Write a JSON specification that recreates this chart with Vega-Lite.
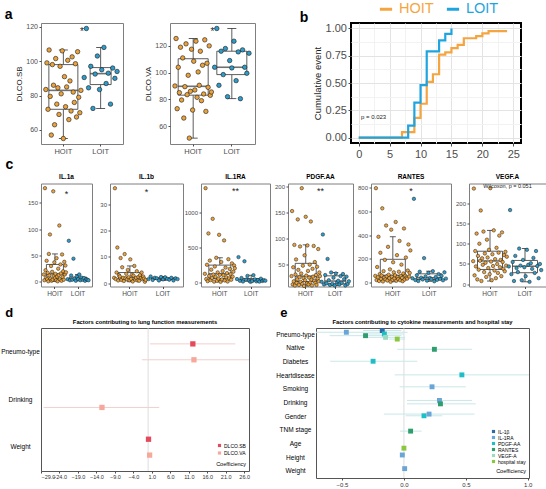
{
"$schema": "https://vega.github.io/schema/vega-lite/v6.json",
"background": "white",
"padding": 0,
"config": {
  "font": "Liberation Sans",
  "view": {"stroke": "#7f7f7f", "strokeWidth": 1},
  "axis": {"grid": false, "domain": false, "labelOverlap": false, "labelColor": "#4d4d4d", "tickColor": "#4d4d4d", "tickSize": 2, "labelPadding": 1.5, "titleColor": "#1a1a1a", "titleFontWeight": "normal", "labelFont": "Liberation Sans", "titleFont": "Liberation Sans"},
  "title": {"font": "Liberation Sans", "fontWeight": "bold", "color": "black"},
  "legend": {"labelFont": "Liberation Sans", "titleFont": "Liberation Sans"}
},
"datasets": {
  "sb": [{"g":"HOIT","v":83.5},{"g":"HOIT","v":99},{"g":"HOIT","v":72},{"g":"HOIT","v":106.5},{"g":"HOIT","v":79.5},{"g":"HOIT","v":57},{"g":"HOIT","v":98},{"g":"HOIT","v":86},{"g":"HOIT","v":63},{"g":"HOIT","v":101.5},{"g":"HOIT","v":75},{"g":"HOIT","v":84.5},{"g":"HOIT","v":69},{"g":"HOIT","v":97},{"g":"HOIT","v":81},{"g":"HOIT","v":106},{"g":"HOIT","v":55},{"g":"HOIT","v":91},{"g":"HOIT","v":73.5},{"g":"HOIT","v":85},{"g":"HOIT","v":100.5},{"g":"HOIT","v":66},{"g":"HOIT","v":88.5},{"g":"HOIT","v":71},{"g":"HOIT","v":102.5},{"g":"HOIT","v":82},{"g":"HOIT","v":76},{"g":"HOIT","v":98.5},{"g":"HOIT","v":67.5},{"g":"HOIT","v":105.5},{"g":"HOIT","v":79},{"g":"HOIT","v":70},{"g":"HOIT","v":83},
         {"g":"LOIT","v":90.5},{"g":"LOIT","v":119},{"g":"LOIT","v":84.5},{"g":"LOIT","v":97},{"g":"LOIT","v":72.5},{"g":"LOIT","v":92.5},{"g":"LOIT","v":103},{"g":"LOIT","v":83.5},{"g":"LOIT","v":95},{"g":"LOIT","v":108},{"g":"LOIT","v":87},{"g":"LOIT","v":93},{"g":"LOIT","v":75},{"g":"LOIT","v":96},{"g":"LOIT","v":90},{"g":"LOIT","v":94}],
  "va": [{"g":"HOIT","v":90},{"g":"HOIT","v":125.5},{"g":"HOIT","v":73},{"g":"HOIT","v":104},{"g":"HOIT","v":85},{"g":"HOIT","v":119},{"g":"HOIT","v":79.5},{"g":"HOIT","v":111},{"g":"HOIT","v":66},{"g":"HOIT","v":89.5},{"g":"HOIT","v":121.5},{"g":"HOIT","v":83.5},{"g":"HOIT","v":98},{"g":"HOIT","v":51},{"g":"HOIT","v":86},{"g":"HOIT","v":117.5},{"g":"HOIT","v":72},{"g":"HOIT","v":108.5},{"g":"HOIT","v":87},{"g":"HOIT","v":123.5},{"g":"HOIT","v":81.5},{"g":"HOIT","v":100.5},{"g":"HOIT","v":90.5},{"g":"HOIT","v":116},{"g":"HOIT","v":79},{"g":"HOIT","v":105.5},{"g":"HOIT","v":84},{"g":"HOIT","v":124.5},{"g":"HOIT","v":71},{"g":"HOIT","v":107},{"g":"HOIT","v":89},{"g":"HOIT","v":120},{"g":"HOIT","v":83},{"g":"HOIT","v":85.5},
         {"g":"LOIT","v":104},{"g":"LOIT","v":133},{"g":"LOIT","v":90.5},{"g":"LOIT","v":116},{"g":"LOIT","v":98.5},{"g":"LOIT","v":118},{"g":"LOIT","v":82},{"g":"LOIT","v":109},{"g":"LOIT","v":103.5},{"g":"LOIT","v":123.5},{"g":"LOIT","v":94},{"g":"LOIT","v":115.5},{"g":"LOIT","v":80.5},{"g":"LOIT","v":117},{"g":"LOIT","v":104},{"g":"LOIT","v":99.5},{"g":"LOIT","v":114.5}],
  "km": [{"g":"HOIT","t":0,"p":0},{"g":"HOIT","t":7,"p":0.05},{"g":"HOIT","t":9,"p":0.18},{"g":"HOIT","t":10,"p":0.31},{"g":"HOIT","t":11,"p":0.51},{"g":"HOIT","t":12,"p":0.58},{"g":"HOIT","t":13,"p":0.76},{"g":"HOIT","t":14,"p":0.78},{"g":"HOIT","t":15,"p":0.82},{"g":"HOIT","t":16,"p":0.85},{"g":"HOIT","t":17,"p":0.91},{"g":"HOIT","t":19,"p":0.93},{"g":"HOIT","t":20,"p":0.955},{"g":"HOIT","t":21,"p":0.975},{"g":"HOIT","t":24,"p":0.975},
         {"g":"LOIT","t":0,"p":0},{"g":"LOIT","t":8,"p":0.11},{"g":"LOIT","t":9,"p":0.32},{"g":"LOIT","t":10,"p":0.48},{"g":"LOIT","t":11,"p":0.79},{"g":"LOIT","t":13,"p":0.89},{"g":"LOIT","t":14,"p":0.95},{"g":"LOIT","t":15,"p":1}],
  "il1a": [{"g":"HOIT","v":14},{"g":"HOIT","v":3},{"g":"HOIT","v":178},{"g":"HOIT","v":22},{"g":"HOIT","v":8},{"g":"HOIT","v":40},{"g":"HOIT","v":5},{"g":"HOIT","v":17},{"g":"HOIT","v":1},{"g":"HOIT","v":53},{"g":"HOIT","v":12},{"g":"HOIT","v":90},{"g":"HOIT","v":6},{"g":"HOIT","v":30},{"g":"HOIT","v":2},{"g":"HOIT","v":19},{"g":"HOIT","v":4},{"g":"HOIT","v":172},{"g":"HOIT","v":11},{"g":"HOIT","v":37},{"g":"HOIT","v":7},{"g":"HOIT","v":15},{"g":"HOIT","v":3},{"g":"HOIT","v":45},{"g":"HOIT","v":10},{"g":"HOIT","v":1},{"g":"HOIT","v":25},{"g":"HOIT","v":13},{"g":"HOIT","v":107},{"g":"HOIT","v":5},{"g":"HOIT","v":33},{"g":"HOIT","v":16},{"g":"HOIT","v":2},{"g":"HOIT","v":52},{"g":"HOIT","v":9},{"g":"HOIT","v":20},{"g":"HOIT","v":4},{"g":"HOIT","v":38},{"g":"HOIT","v":14},{"g":"HOIT","v":31},{"g":"HOIT","v":18},
           {"g":"LOIT","v":5},{"g":"LOIT","v":78},{"g":"LOIT","v":3},{"g":"LOIT","v":12},{"g":"LOIT","v":4},{"g":"LOIT","v":44},{"g":"LOIT","v":6},{"g":"LOIT","v":2},{"g":"LOIT","v":10},{"g":"LOIT","v":5},{"g":"LOIT","v":14},{"g":"LOIT","v":3},{"g":"LOIT","v":8},{"g":"LOIT","v":4},{"g":"LOIT","v":7},{"g":"LOIT","v":2},{"g":"LOIT","v":5},{"g":"LOIT","v":4},{"g":"LOIT","v":3}],
  "il1b": [{"g":"HOIT","v":2},{"g":"HOIT","v":36},{"g":"HOIT","v":1.5},{"g":"HOIT","v":4},{"g":"HOIT","v":13.5},{"g":"HOIT","v":1},{"g":"HOIT","v":3},{"g":"HOIT","v":2.5},{"g":"HOIT","v":9.5},{"g":"HOIT","v":1.2},{"g":"HOIT","v":6},{"g":"HOIT","v":2},{"g":"HOIT","v":0.8},{"g":"HOIT","v":11},{"g":"HOIT","v":1.8},{"g":"HOIT","v":3.5},{"g":"HOIT","v":1.4},{"g":"HOIT","v":5},{"g":"HOIT","v":2.2},{"g":"HOIT","v":1.1},{"g":"HOIT","v":9},{"g":"HOIT","v":1.6},{"g":"HOIT","v":3.2},{"g":"HOIT","v":0.6},{"g":"HOIT","v":2.8},{"g":"HOIT","v":6.5},{"g":"HOIT","v":1.3},{"g":"HOIT","v":2},{"g":"HOIT","v":4.5},{"g":"HOIT","v":1},{"g":"HOIT","v":2.3},{"g":"HOIT","v":0.9},{"g":"HOIT","v":3},{"g":"HOIT","v":1.9},{"g":"HOIT","v":4},{"g":"HOIT","v":1.5},{"g":"HOIT","v":2.5},{"g":"HOIT","v":1.7},{"g":"HOIT","v":0.5},{"g":"HOIT","v":1.2},
           {"g":"LOIT","v":1.5},{"g":"LOIT","v":2.5},{"g":"LOIT","v":1.2},{"g":"LOIT","v":2},{"g":"LOIT","v":1.8},{"g":"LOIT","v":1},{"g":"LOIT","v":2.3},{"g":"LOIT","v":1.4},{"g":"LOIT","v":2.2},{"g":"LOIT","v":1.6},{"g":"LOIT","v":1.3},{"g":"LOIT","v":2},{"g":"LOIT","v":1},{"g":"LOIT","v":1.8},{"g":"LOIT","v":1.5}],
  "il1ra": [{"g":"HOIT","v":120},{"g":"HOIT","v":1350},{"g":"HOIT","v":45},{"g":"HOIT","v":250},{"g":"HOIT","v":15},{"g":"HOIT","v":700},{"g":"HOIT","v":90},{"g":"HOIT","v":310},{"g":"HOIT","v":30},{"g":"HOIT","v":180},{"g":"HOIT","v":60},{"g":"HOIT","v":910},{"g":"HOIT","v":110},{"g":"HOIT","v":8},{"g":"HOIT","v":225},{"g":"HOIT","v":75},{"g":"HOIT","v":350},{"g":"HOIT","v":20},{"g":"HOIT","v":140},{"g":"HOIT","v":50},{"g":"HOIT","v":680},{"g":"HOIT","v":105},{"g":"HOIT","v":5},{"g":"HOIT","v":290},{"g":"HOIT","v":40},{"g":"HOIT","v":160},{"g":"HOIT","v":100},{"g":"HOIT","v":600},{"g":"HOIT","v":25},{"g":"HOIT","v":210},{"g":"HOIT","v":70},{"g":"HOIT","v":130},{"g":"HOIT","v":10},{"g":"HOIT","v":330},{"g":"HOIT","v":55},{"g":"HOIT","v":190},{"g":"HOIT","v":115},{"g":"HOIT","v":35},{"g":"HOIT","v":270},{"g":"HOIT","v":80},{"g":"HOIT","v":150},{"g":"HOIT","v":240},{"g":"HOIT","v":200},
            {"g":"LOIT","v":45},{"g":"LOIT","v":360},{"g":"LOIT","v":20},{"g":"LOIT","v":60},{"g":"LOIT","v":10},{"g":"LOIT","v":300},{"g":"LOIT","v":35},{"g":"LOIT","v":90},{"g":"LOIT","v":25},{"g":"LOIT","v":5},{"g":"LOIT","v":15},{"g":"LOIT","v":100},{"g":"LOIT","v":40},{"g":"LOIT","v":12},{"g":"LOIT","v":30},{"g":"LOIT","v":8},{"g":"LOIT","v":50},{"g":"LOIT","v":18},{"g":"LOIT","v":28},{"g":"LOIT","v":22}],
  "pdgf": [{"g":"HOIT","v":28},{"g":"HOIT","v":153},{"g":"HOIT","v":12},{"g":"HOIT","v":45},{"g":"HOIT","v":18},{"g":"HOIT","v":88},{"g":"HOIT","v":10},{"g":"HOIT","v":31},{"g":"HOIT","v":60},{"g":"HOIT","v":15},{"g":"HOIT","v":22},{"g":"HOIT","v":137},{"g":"HOIT","v":40},{"g":"HOIT","v":11},{"g":"HOIT","v":26},{"g":"HOIT","v":85},{"g":"HOIT","v":17},{"g":"HOIT","v":33},{"g":"HOIT","v":197},{"g":"HOIT","v":13},{"g":"HOIT","v":48},{"g":"HOIT","v":24},{"g":"HOIT","v":9},{"g":"HOIT","v":68},{"g":"HOIT","v":20},{"g":"HOIT","v":142},{"g":"HOIT","v":29},{"g":"HOIT","v":14},{"g":"HOIT","v":87},{"g":"HOIT","v":38},{"g":"HOIT","v":12},{"g":"HOIT","v":25},{"g":"HOIT","v":50},{"g":"HOIT","v":16},{"g":"HOIT","v":133},{"g":"HOIT","v":21},{"g":"HOIT","v":10},{"g":"HOIT","v":42},{"g":"HOIT","v":27},{"g":"HOIT","v":86},{"g":"HOIT","v":19},{"g":"HOIT","v":55},{"g":"HOIT","v":15},{"g":"HOIT","v":30},{"g":"HOIT","v":11},{"g":"HOIT","v":46},{"g":"HOIT","v":23},{"g":"HOIT","v":80},{"g":"HOIT","v":18},{"g":"HOIT","v":35},{"g":"HOIT","v":28},
           {"g":"LOIT","v":17},{"g":"LOIT","v":108},{"g":"LOIT","v":12},{"g":"LOIT","v":30},{"g":"LOIT","v":14},{"g":"LOIT","v":61},{"g":"LOIT","v":20},{"g":"LOIT","v":11},{"g":"LOIT","v":35},{"g":"LOIT","v":13},{"g":"LOIT","v":25},{"g":"LOIT","v":10},{"g":"LOIT","v":33},{"g":"LOIT","v":16},{"g":"LOIT","v":19},{"g":"LOIT","v":12},{"g":"LOIT","v":28},{"g":"LOIT","v":15},{"g":"LOIT","v":32},{"g":"LOIT","v":22},{"g":"LOIT","v":10},{"g":"LOIT","v":27},{"g":"LOIT","v":13},{"g":"LOIT","v":18}],
  "rantes": [{"g":"HOIT","v":55},{"g":"HOIT","v":795},{"g":"HOIT","v":20},{"g":"HOIT","v":130},{"g":"HOIT","v":44},{"g":"HOIT","v":385},{"g":"HOIT","v":12},{"g":"HOIT","v":70},{"g":"HOIT","v":250},{"g":"HOIT","v":30},{"g":"HOIT","v":58},{"g":"HOIT","v":625},{"g":"HOIT","v":8},{"g":"HOIT","v":95},{"g":"HOIT","v":40},{"g":"HOIT","v":190},{"g":"HOIT","v":26},{"g":"HOIT","v":480},{"g":"HOIT","v":52},{"g":"HOIT","v":16},{"g":"HOIT","v":300},{"g":"HOIT","v":65},{"g":"HOIT","v":36},{"g":"HOIT","v":110},{"g":"HOIT","v":5},{"g":"HOIT","v":445},{"g":"HOIT","v":48},{"g":"HOIT","v":22},{"g":"HOIT","v":170},{"g":"HOIT","v":85},{"g":"HOIT","v":34},{"g":"HOIT","v":60},{"g":"HOIT","v":510},{"g":"HOIT","v":14},{"g":"HOIT","v":230},{"g":"HOIT","v":46},{"g":"HOIT","v":28},{"g":"HOIT","v":90},{"g":"HOIT","v":350},{"g":"HOIT","v":18},{"g":"HOIT","v":54},{"g":"HOIT","v":150},{"g":"HOIT","v":38},{"g":"HOIT","v":10},{"g":"HOIT","v":75},{"g":"HOIT","v":455},{"g":"HOIT","v":24},{"g":"HOIT","v":56},{"g":"HOIT","v":210},{"g":"HOIT","v":42},{"g":"HOIT","v":32},{"g":"HOIT","v":100},{"g":"HOIT","v":320},{"g":"HOIT","v":50},{"g":"HOIT","v":80},{"g":"HOIT","v":270},
             {"g":"LOIT","v":35},{"g":"LOIT","v":705},{"g":"LOIT","v":20},{"g":"LOIT","v":60},{"g":"LOIT","v":12},{"g":"LOIT","v":90},{"g":"LOIT","v":40},{"g":"LOIT","v":25},{"g":"LOIT","v":205},{"g":"LOIT","v":50},{"g":"LOIT","v":15},{"g":"LOIT","v":80},{"g":"LOIT","v":38},{"g":"LOIT","v":28},{"g":"LOIT","v":95},{"g":"LOIT","v":10},{"g":"LOIT","v":45},{"g":"LOIT","v":22},{"g":"LOIT","v":70},{"g":"LOIT","v":30},{"g":"LOIT","v":55},{"g":"LOIT","v":18},{"g":"LOIT","v":85},{"g":"LOIT","v":32}],
  "vegf": [{"g":"HOIT","v":57},{"g":"HOIT","v":236},{"g":"HOIT","v":22},{"g":"HOIT","v":82},{"g":"HOIT","v":44},{"g":"HOIT","v":125},{"g":"HOIT","v":12},{"g":"HOIT","v":70},{"g":"HOIT","v":36},{"g":"HOIT","v":100},{"g":"HOIT","v":58},{"g":"HOIT","v":182},{"g":"HOIT","v":8},{"g":"HOIT","v":64},{"g":"HOIT","v":48},{"g":"HOIT","v":130},{"g":"HOIT","v":30},{"g":"HOIT","v":76},{"g":"HOIT","v":53},{"g":"HOIT","v":18},{"g":"HOIT","v":110},{"g":"HOIT","v":66},{"g":"HOIT","v":40},{"g":"HOIT","v":85},{"g":"HOIT","v":25},{"g":"HOIT","v":237},{"g":"HOIT","v":56},{"g":"HOIT","v":10},{"g":"HOIT","v":74},{"g":"HOIT","v":45},{"g":"HOIT","v":133},{"g":"HOIT","v":34},{"g":"HOIT","v":62},{"g":"HOIT","v":15},{"g":"HOIT","v":90},{"g":"HOIT","v":50},{"g":"HOIT","v":28},{"g":"HOIT","v":78},{"g":"HOIT","v":120},{"g":"HOIT","v":42},{"g":"HOIT","v":60},{"g":"HOIT","v":20},{"g":"HOIT","v":128},{"g":"HOIT","v":55},{"g":"HOIT","v":38},{"g":"HOIT","v":72},{"g":"HOIT","v":32},{"g":"HOIT","v":80},{"g":"HOIT","v":46},{"g":"HOIT","v":68},
           {"g":"LOIT","v":44},{"g":"LOIT","v":183},{"g":"LOIT","v":25},{"g":"LOIT","v":55},{"g":"LOIT","v":8},{"g":"LOIT","v":70},{"g":"LOIT","v":40},{"g":"LOIT","v":30},{"g":"LOIT","v":88},{"g":"LOIT","v":46},{"g":"LOIT","v":10},{"g":"LOIT","v":60},{"g":"LOIT","v":42},{"g":"LOIT","v":20},{"g":"LOIT","v":85},{"g":"LOIT","v":48},{"g":"LOIT","v":6},{"g":"LOIT","v":52},{"g":"LOIT","v":38},{"g":"LOIT","v":65},{"g":"LOIT","v":28},{"g":"LOIT","v":82},{"g":"LOIT","v":45},{"g":"LOIT","v":15},{"g":"LOIT","v":50},{"g":"LOIT","v":35}],
  "dd": [{"f":"Pneumo-type","m":"DLCO.SB","est":12.1,"lo":0.5,"hi":23.6},{"f":"Pneumo-type","m":"DLCO.VA","est":12.4,"lo":-1.7,"hi":30},{"f":"Drinking","m":"DLCO.VA","est":-12.5,"lo":-28.3,"hi":3.0},{"f":"Weight","m":"DLCO.SB","est":0.1,"lo":-0.3,"hi":0.5},{"f":"Weight","m":"DLCO.VA","est":0.4,"lo":0.0,"hi":0.8}],
  "ee": [{"f":"Pneumo-type","m":"IL-1β","est":-0.175,"lo":-0.33,"hi":-0.02},{"f":"Pneumo-type","m":"IL-1RA","est":-0.465,"lo":-0.75,"hi":0.03},{"f":"Pneumo-type","m":"PDGF-AA","est":-0.158,"lo":-0.32,"hi":0.0},{"f":"Pneumo-type","m":"RANTES","est":-0.31,"lo":-0.6,"hi":-0.02},{"f":"Pneumo-type","m":"VEGF-A","est":-0.148,"lo":-0.3,"hi":0.01},{"f":"Pneumo-type","m":"hospital stay","est":-0.054,"lo":-0.12,"hi":0.01},
         {"f":"Native","m":"RANTES","est":0.246,"lo":-0.054,"hi":0.549},{"f":"Diabetes","m":"PDGF-AA","est":-0.249,"lo":-0.595,"hi":0.108},{"f":"Heartdisease","m":"PDGF-AA","est":0.468,"lo":-0.075,"hi":1.05},{"f":"Smoking","m":"IL-1RA","est":0.227,"lo":-0.035,"hi":0.5},
         {"f":"Drinking","m":"IL-1RA","est":0.287,"lo":0.025,"hi":0.55},{"f":"Drinking","m":"RANTES","est":0.295,"lo":0.025,"hi":0.58},{"f":"Gender","m":"IL-1RA","est":0.203,"lo":-0.162,"hi":0.57},{"f":"Gender","m":"PDGF-AA","est":0.162,"lo":0.014,"hi":0.31},
         {"f":"TNM stage","m":"RANTES","est":0.054,"lo":-0.032,"hi":0.143},{"f":"Age","m":"hospital stay","est":0.0,"lo":-0.01,"hi":0.01},{"f":"Height","m":"IL-1RA","est":-0.013,"lo":-0.03,"hi":0.005},{"f":"Weight","m":"IL-1RA","est":0.006,"lo":-0.01,"hi":0.02}]
},
"spacing": 10,
"resolve": {"scale": {"color": "independent", "yOffset": "independent", "xOffset": "independent"}, "legend": {"color": "independent"}},
"vconcat": [
 {"spacing": -2.5,
  "resolve": {"scale": {"color": "independent", "yOffset": "independent", "xOffset": "independent"}, "legend": {"color": "independent"}},
  "vconcat": [
  {"spacing": 42,
   "resolve": {"scale": {"color": "independent", "xOffset": "independent"}, "legend": {"color": "independent"}},
   "hconcat": [
   {"spacing": 20,
    "resolve": {"scale": {"xOffset": "independent"}},
    "hconcat": [
     {"width": 82, "height": 121, "data": {"name": "sb"},
      "title": {"text": "a", "anchor": "start", "frame": "bounds", "dx": -11, "offset": 1, "fontSize": 14},
      "resolve": {"scale": {"xOffset": "independent"}},
      "encoding": {
       "x": {"field": "g", "type": "nominal", "title": null, "scale": {"domain": ["HOIT", "LOIT"], "paddingInner": 0, "paddingOuter": 0.1}, "axis": {"labelAngle": 0, "labelFontSize": 7.5, "labelOverlap": false}},
       "y": {"field": "v", "type": "quantitative", "title": "DLCO.SB", "scale": {"domain": [51.8, 122.2], "nice": false, "zero": false}, "axis": {"values": [60, 80, 100, 120], "labelOverlap": false, "labelFontSize": 7, "titleFontSize": 8, "titlePadding": 2}}},
      "layer": [
       {"transform": [{"filter": "datum.g == 'HOIT'"}],
        "mark": {"type": "boxplot", "extent": 1.5, "size": 29, "outliers": false, "box": {"fill": "white", "stroke": "#333333", "strokeWidth": 0.8}, "median": {"color": "#333333", "thickness": 1.6}, "rule": {"color": "#333333", "strokeWidth": 0.8}, "ticks": {"color": "#333333", "size": 9, "thickness": 0.8}}},
       {"transform": [{"filter": "datum.g == 'LOIT'"}],
        "mark": {"type": "boxplot", "extent": 1.5, "size": 21, "outliers": false, "box": {"fill": "white", "stroke": "#333333", "strokeWidth": 0.8}, "median": {"color": "#333333", "thickness": 1.6}, "rule": {"color": "#333333", "strokeWidth": 0.8}, "ticks": {"color": "#333333", "size": 9, "thickness": 0.8}}},
       {"transform": [{"filter": "datum.g == 'HOIT'"}, {"window": [{"op": "row_number", "as": "i"}]}],
        "mark": {"type": "circle", "size": 20, "fill": "#EBA23A", "stroke": "#1a1a1a", "strokeWidth": 0.6, "opacity": 1},
        "encoding": {"xOffset": {"field": "i", "type": "nominal", "scale": {"paddingOuter": 9}}}},
       {"transform": [{"filter": "datum.g == 'LOIT'"}, {"window": [{"op": "row_number", "as": "i"}]}],
        "mark": {"type": "circle", "size": 20, "fill": "#2E9CCA", "stroke": "#1a1a1a", "strokeWidth": 0.6, "opacity": 1},
        "encoding": {"xOffset": {"field": "i", "type": "nominal", "scale": {"paddingOuter": 6.8}}}},
       {"data": {"values": [{"t": "*", "v": 117}]}, "mark": {"type": "text", "fontSize": 10, "color": "#1a1a1a"},
        "encoding": {"x": {"datum": "LOIT", "bandPosition": 0, "title": null}, "text": {"field": "t"}}}
      ]},
     {"width": 85, "height": 121, "data": {"name": "va"},
      "resolve": {"scale": {"xOffset": "independent"}},
      "encoding": {
       "x": {"field": "g", "type": "nominal", "title": null, "scale": {"domain": ["HOIT", "LOIT"], "paddingInner": 0, "paddingOuter": 0.1}, "axis": {"labelAngle": 0, "labelFontSize": 7.5, "labelOverlap": false}},
       "y": {"field": "v", "type": "quantitative", "title": "DLCO.VA", "scale": {"domain": [46.6, 137.1], "nice": false, "zero": false}, "axis": {"values": [60, 80, 100, 120], "labelOverlap": false, "labelFontSize": 7, "titleFontSize": 8, "titlePadding": 2}}},
      "layer": [
       {"transform": [{"filter": "datum.g == 'HOIT'"}],
        "mark": {"type": "boxplot", "extent": 1.5, "size": 30, "outliers": false, "box": {"fill": "white", "stroke": "#333333", "strokeWidth": 0.8}, "median": {"color": "#333333", "thickness": 1.6}, "rule": {"color": "#333333", "strokeWidth": 0.8}, "ticks": {"color": "#333333", "size": 9, "thickness": 0.8}}},
       {"transform": [{"filter": "datum.g == 'LOIT'"}],
        "mark": {"type": "boxplot", "extent": 1.5, "size": 30, "outliers": false, "box": {"fill": "white", "stroke": "#333333", "strokeWidth": 0.8}, "median": {"color": "#333333", "thickness": 1.6}, "rule": {"color": "#333333", "strokeWidth": 0.8}, "ticks": {"color": "#333333", "size": 9, "thickness": 0.8}}},
       {"transform": [{"filter": "datum.g == 'HOIT'"}, {"window": [{"op": "row_number", "as": "i"}]}],
        "mark": {"type": "circle", "size": 20, "fill": "#EBA23A", "stroke": "#1a1a1a", "strokeWidth": 0.6, "opacity": 1},
        "encoding": {"xOffset": {"field": "i", "type": "nominal", "scale": {"paddingOuter": 12.8}}}},
       {"transform": [{"filter": "datum.g == 'LOIT'"}, {"window": [{"op": "row_number", "as": "i"}]}],
        "mark": {"type": "circle", "size": 20, "fill": "#2E9CCA", "stroke": "#1a1a1a", "strokeWidth": 0.6, "opacity": 1},
        "encoding": {"xOffset": {"field": "i", "type": "nominal", "scale": {"paddingOuter": 5.2}}}},
       {"data": {"values": [{"t": "*", "v": 130.4}]}, "mark": {"type": "text", "fontSize": 10, "color": "#1a1a1a"},
        "encoding": {"x": {"datum": "LOIT", "bandPosition": 0, "title": null}, "text": {"field": "t"}}}
      ]}
    ]},
   {"width": 170, "height": 120,
    "view": {"stroke": "black", "strokeWidth": 2},
    "resolve": {"axis": {"x": "independent", "y": "independent"}},
    "layer": [
     {"data": {"name": "km"}, "mark": {"type": "line", "interpolate": "step-after", "strokeWidth": 2.2},
      "encoding": {
       "x": {"field": "t", "type": "quantitative", "title": null, "scale": {"domain": [-1.25, 26.25], "nice": false, "zero": false}, "axis": {"values": [0, 5, 10, 15, 20, 25], "grid": true, "gridColor": "#e3e3e3", "labelFontSize": 11, "tickSize": 3, "labelPadding": 2}},
       "y": {"field": "p", "type": "quantitative", "title": "Cumulative event", "scale": {"domain": [-0.05, 1.05], "nice": false, "zero": false}, "axis": {"values": [0, 0.25, 0.5, 0.75, 1], "format": ".2f", "grid": true, "gridColor": "#e3e3e3", "titleFontSize": 9.5, "labelFontSize": 11, "tickSize": 3, "titlePadding": 3}},
       "color": {"field": "g", "type": "nominal", "scale": {"domain": ["HOIT", "LOIT"], "range": ["#F5A540", "#1EA5E0"]},
                 "legend": {"orient": "none", "legendX": 27, "legendY": -22, "direction": "horizontal", "title": null, "symbolType": "stroke", "symbolStrokeWidth": 3, "symbolSize": 150, "labelFontSize": 14.5, "labelColor": {"expr": "datum.label == 'HOIT' ? '#F5A540' : '#1EA5E0'"}, "columnPadding": 6, "labelOffset": 5, "padding": 0}}}},
     {"data": {"values": [{"x": 0.37, "y": 0.19, "t": "p = 0.023"}]}, "mark": {"type": "text", "fontSize": 6, "align": "left", "color": "#1a1a1a"},
      "encoding": {
       "x": {"field": "x", "type": "quantitative", "title": null, "axis": {"values": [2.5, 7.5, 12.5, 17.5, 22.5], "grid": true, "gridColor": "#f2f2f2", "labels": false, "ticks": false, "domain": false}},
       "y": {"field": "y", "type": "quantitative", "title": null, "axis": {"values": [0.125, 0.375, 0.625, 0.875], "grid": true, "gridColor": "#f2f2f2", "labels": false, "ticks": false, "domain": false}},
       "text": {"field": "t"}}},
     {"data": {"values": [{"x": -8.85, "y": 1.096, "t": "b"}]}, "mark": {"type": "text", "fontSize": 14, "fontWeight": "bold", "color": "black"},
      "encoding": {"x": {"field": "x", "type": "quantitative", "axis": null}, "y": {"field": "y", "type": "quantitative", "axis": null}, "text": {"field": "t"}}}
    ]}
  ]},
  {"title": {"text": "c", "anchor": "start", "frame": "bounds", "dx": -21.5, "offset": 2, "fontSize": 14},
   "spacing": 18, "bounds": "flush",
   "resolve": {"scale": {"xOffset": "independent"}},
   "hconcat": [
    {"width": 51, "height": 103, "title": {"text": "IL.1a", "fontSize": 6.5, "offset": 3}, "data": {"name": "il1a"},
     "resolve": {"scale": {"xOffset": "independent"}},
     "encoding": {
      "x": {"field": "g", "type": "nominal", "title": null, "scale": {"domain": ["HOIT", "LOIT"], "paddingInner": 0, "paddingOuter": 0.1}, "axis": {"labelAngle": 0, "labelFontSize": 6.5, "labelOverlap": false}},
      "y": {"field": "v", "type": "quantitative", "title": null, "scale": {"domain": [-8.9, 186.9], "nice": false, "zero": false}, "axis": {"values": [0, 50, 100, 150], "labelOverlap": false, "labelFontSize": 6}}},
     "layer": [
      {"transform": [{"filter": "datum.g == 'HOIT'"}], "mark": {"type": "boxplot", "extent": 1.5, "size": 17, "outliers": false, "box": {"fill": "white", "stroke": "#333333", "strokeWidth": 0.8}, "median": {"color": "#333333", "thickness": 1.5}, "rule": {"color": "#333333", "strokeWidth": 0.8}, "ticks": {"color": "#333333", "size": 6, "thickness": 0.8}}},
      {"transform": [{"filter": "datum.g == 'LOIT'"}], "mark": {"type": "boxplot", "extent": 1.5, "size": 17, "outliers": false, "box": {"fill": "white", "stroke": "#333333", "strokeWidth": 0.8}, "median": {"color": "#333333", "thickness": 1.5}, "rule": {"color": "#333333", "strokeWidth": 0.8}, "ticks": {"color": "#333333", "size": 6, "thickness": 0.8}}},
      {"transform": [{"filter": "datum.g == 'HOIT'"}, {"window": [{"op": "row_number", "as": "i"}]}], "mark": {"type": "circle", "size": 12, "fill": "#EBA23A", "stroke": "#1a1a1a", "strokeWidth": 0.5, "opacity": 1},
       "encoding": {"xOffset": {"field": "i", "type": "nominal", "scale": {"paddingOuter": 6.8}}}},
      {"transform": [{"filter": "datum.g == 'LOIT'"}, {"window": [{"op": "row_number", "as": "i"}]}], "mark": {"type": "circle", "size": 12, "fill": "#2E9CCA", "stroke": "#1a1a1a", "strokeWidth": 0.5, "opacity": 1},
       "encoding": {"xOffset": {"field": "i", "type": "nominal", "scale": {"paddingOuter": 3.2}}}},
      {"data": {"values": [{"t": "*", "v": 166}]}, "mark": {"type": "text", "fontSize": 9, "color": "#1a1a1a"},
       "encoding": {"x": {"datum": "LOIT", "bandPosition": 0, "title": null}, "text": {"field": "t"}}}
     ]},
    {"width": 73, "height": 103, "title": {"text": "IL.1b", "fontSize": 6.5, "offset": 3}, "data": {"name": "il1b"},
     "resolve": {"scale": {"xOffset": "independent"}},
     "encoding": {
      "x": {"field": "g", "type": "nominal", "title": null, "scale": {"domain": ["HOIT", "LOIT"], "paddingInner": 0, "paddingOuter": 0.1}, "axis": {"labelAngle": 0, "labelFontSize": 6.5, "labelOverlap": false}},
      "y": {"field": "v", "type": "quantitative", "title": null, "scale": {"domain": [-1.3, 37.8], "nice": false, "zero": false}, "axis": {"values": [0, 10, 20, 30], "labelOverlap": false, "labelFontSize": 6}}},
     "layer": [
      {"transform": [{"filter": "datum.g == 'HOIT'"}], "mark": {"type": "boxplot", "extent": 1.5, "size": 23, "outliers": false, "box": {"fill": "white", "stroke": "#333333", "strokeWidth": 0.8}, "median": {"color": "#333333", "thickness": 1.5}, "rule": {"color": "#333333", "strokeWidth": 0.8}, "ticks": {"color": "#333333", "size": 6, "thickness": 0.8}}},
      {"transform": [{"filter": "datum.g == 'LOIT'"}], "mark": {"type": "boxplot", "extent": 1.5, "size": 23, "outliers": false, "box": {"fill": "white", "stroke": "#333333", "strokeWidth": 0.8}, "median": {"color": "#333333", "thickness": 1.5}, "rule": {"color": "#333333", "strokeWidth": 0.8}, "ticks": {"color": "#333333", "size": 6, "thickness": 0.8}}},
      {"transform": [{"filter": "datum.g == 'HOIT'"}, {"window": [{"op": "row_number", "as": "i"}]}], "mark": {"type": "circle", "size": 12, "fill": "#EBA23A", "stroke": "#1a1a1a", "strokeWidth": 0.5, "opacity": 1},
       "encoding": {"xOffset": {"field": "i", "type": "nominal", "scale": {"paddingOuter": 6.7}}}},
      {"transform": [{"filter": "datum.g == 'LOIT'"}, {"window": [{"op": "row_number", "as": "i"}]}], "mark": {"type": "circle", "size": 12, "fill": "#2E9CCA", "stroke": "#1a1a1a", "strokeWidth": 0.5, "opacity": 1},
       "encoding": {"xOffset": {"field": "i", "type": "nominal", "scale": {"paddingOuter": 2.5}}}},
      {"data": {"values": [{"t": "*", "v": 34.4}]}, "mark": {"type": "text", "fontSize": 9, "color": "#1a1a1a"},
       "encoding": {"x": {"datum": "LOIT", "bandPosition": 0, "title": null}, "text": {"field": "t"}}}
     ]},
    {"width": 69, "height": 103, "title": {"text": "IL.1RA", "fontSize": 6.5, "offset": 3}, "data": {"name": "il1ra"},
     "resolve": {"scale": {"xOffset": "independent"}},
     "encoding": {
      "x": {"field": "g", "type": "nominal", "title": null, "scale": {"domain": ["HOIT", "LOIT"], "paddingInner": 0, "paddingOuter": 0.1}, "axis": {"labelAngle": 0, "labelFontSize": 6.5, "labelOverlap": false}},
      "y": {"field": "v", "type": "quantitative", "title": null, "scale": {"domain": [-62, 1417], "nice": false, "zero": false}, "axis": {"values": [0, 500, 1000], "format": "d", "labelOverlap": false, "labelFontSize": 6}}},
     "layer": [
      {"transform": [{"filter": "datum.g == 'HOIT'"}], "mark": {"type": "boxplot", "extent": 1.5, "size": 22, "outliers": false, "box": {"fill": "white", "stroke": "#333333", "strokeWidth": 0.8}, "median": {"color": "#333333", "thickness": 1.5}, "rule": {"color": "#333333", "strokeWidth": 0.8}, "ticks": {"color": "#333333", "size": 6, "thickness": 0.8}}},
      {"transform": [{"filter": "datum.g == 'LOIT'"}], "mark": {"type": "boxplot", "extent": 1.5, "size": 22, "outliers": false, "box": {"fill": "white", "stroke": "#333333", "strokeWidth": 0.8}, "median": {"color": "#333333", "thickness": 1.5}, "rule": {"color": "#333333", "strokeWidth": 0.8}, "ticks": {"color": "#333333", "size": 6, "thickness": 0.8}}},
      {"transform": [{"filter": "datum.g == 'HOIT'"}, {"window": [{"op": "row_number", "as": "i"}]}], "mark": {"type": "circle", "size": 12, "fill": "#EBA23A", "stroke": "#1a1a1a", "strokeWidth": 0.5, "opacity": 1},
       "encoding": {"xOffset": {"field": "i", "type": "nominal", "scale": {"paddingOuter": 7.2}}}},
      {"transform": [{"filter": "datum.g == 'LOIT'"}, {"window": [{"op": "row_number", "as": "i"}]}], "mark": {"type": "circle", "size": 12, "fill": "#2E9CCA", "stroke": "#1a1a1a", "strokeWidth": 0.5, "opacity": 1},
       "encoding": {"xOffset": {"field": "i", "type": "nominal", "scale": {"paddingOuter": 3.3}}}},
      {"data": {"values": [{"t": "**", "v": 1312}]}, "mark": {"type": "text", "fontSize": 9, "color": "#1a1a1a"},
       "encoding": {"x": {"datum": "LOIT", "bandPosition": 0, "title": null}, "text": {"field": "t"}}}
     ]},
    {"width": 65, "height": 103, "title": {"text": "PDGF.AA", "fontSize": 6.5, "offset": 3}, "data": {"name": "pdgf"},
     "resolve": {"scale": {"xOffset": "independent"}},
     "encoding": {
      "x": {"field": "g", "type": "nominal", "title": null, "scale": {"domain": ["HOIT", "LOIT"], "paddingInner": 0, "paddingOuter": 0.1}, "axis": {"labelAngle": 0, "labelFontSize": 6.5, "labelOverlap": false}},
      "y": {"field": "v", "type": "quantitative", "title": null, "scale": {"domain": [8, 206], "nice": false, "zero": false}, "axis": {"values": [50, 100, 150, 200], "labelOverlap": false, "labelFontSize": 6}}},
     "layer": [
      {"transform": [{"filter": "datum.g == 'HOIT'"}], "mark": {"type": "boxplot", "extent": 1.5, "size": 21, "outliers": false, "box": {"fill": "white", "stroke": "#333333", "strokeWidth": 0.8}, "median": {"color": "#333333", "thickness": 1.5}, "rule": {"color": "#333333", "strokeWidth": 0.8}, "ticks": {"color": "#333333", "size": 6, "thickness": 0.8}}},
      {"transform": [{"filter": "datum.g == 'LOIT'"}], "mark": {"type": "boxplot", "extent": 1.5, "size": 21, "outliers": false, "box": {"fill": "white", "stroke": "#333333", "strokeWidth": 0.8}, "median": {"color": "#333333", "thickness": 1.5}, "rule": {"color": "#333333", "strokeWidth": 0.8}, "ticks": {"color": "#333333", "size": 6, "thickness": 0.8}}},
      {"transform": [{"filter": "datum.g == 'HOIT'"}, {"window": [{"op": "row_number", "as": "i"}]}], "mark": {"type": "circle", "size": 12, "fill": "#EBA23A", "stroke": "#1a1a1a", "strokeWidth": 0.5, "opacity": 1},
       "encoding": {"xOffset": {"field": "i", "type": "nominal", "scale": {"paddingOuter": 8.5}}}},
      {"transform": [{"filter": "datum.g == 'LOIT'"}, {"window": [{"op": "row_number", "as": "i"}]}], "mark": {"type": "circle", "size": 12, "fill": "#2E9CCA", "stroke": "#1a1a1a", "strokeWidth": 0.5, "opacity": 1},
       "encoding": {"xOffset": {"field": "i", "type": "nominal", "scale": {"paddingOuter": 4}}}},
      {"data": {"values": [{"t": "**", "v": 191.5}]}, "mark": {"type": "text", "fontSize": 9, "color": "#1a1a1a"},
       "encoding": {"x": {"datum": "LOIT", "bandPosition": 0, "title": null}, "text": {"field": "t"}}}
     ]},
    {"width": 80, "height": 103, "title": {"text": "RANTES", "fontSize": 6.5, "offset": 3}, "data": {"name": "rantes"},
     "resolve": {"scale": {"xOffset": "independent"}},
     "encoding": {
      "x": {"field": "g", "type": "nominal", "title": null, "scale": {"domain": ["HOIT", "LOIT"], "paddingInner": 0, "paddingOuter": 0.1}, "axis": {"labelAngle": 0, "labelFontSize": 6.5, "labelOverlap": false}},
      "y": {"field": "v", "type": "quantitative", "title": null, "scale": {"domain": [-34.5, 834.5], "nice": false, "zero": false}, "axis": {"values": [0, 200, 400, 600, 800], "labelOverlap": false, "labelFontSize": 6}}},
     "layer": [
      {"transform": [{"filter": "datum.g == 'HOIT'"}], "mark": {"type": "boxplot", "extent": 1.5, "size": 25, "outliers": false, "box": {"fill": "white", "stroke": "#333333", "strokeWidth": 0.8}, "median": {"color": "#333333", "thickness": 1.5}, "rule": {"color": "#333333", "strokeWidth": 0.8}, "ticks": {"color": "#333333", "size": 6, "thickness": 0.8}}},
      {"transform": [{"filter": "datum.g == 'LOIT'"}], "mark": {"type": "boxplot", "extent": 1.5, "size": 25, "outliers": false, "box": {"fill": "white", "stroke": "#333333", "strokeWidth": 0.8}, "median": {"color": "#333333", "thickness": 1.5}, "rule": {"color": "#333333", "strokeWidth": 0.8}, "ticks": {"color": "#333333", "size": 6, "thickness": 0.8}}},
      {"transform": [{"filter": "datum.g == 'HOIT'"}, {"window": [{"op": "row_number", "as": "i"}]}], "mark": {"type": "circle", "size": 12, "fill": "#EBA23A", "stroke": "#1a1a1a", "strokeWidth": 0.5, "opacity": 1},
       "encoding": {"xOffset": {"field": "i", "type": "nominal", "scale": {"paddingOuter": 9.3}}}},
      {"transform": [{"filter": "datum.g == 'LOIT'"}, {"window": [{"op": "row_number", "as": "i"}]}], "mark": {"type": "circle", "size": 12, "fill": "#2E9CCA", "stroke": "#1a1a1a", "strokeWidth": 0.5, "opacity": 1},
       "encoding": {"xOffset": {"field": "i", "type": "nominal", "scale": {"paddingOuter": 4}}}},
      {"data": {"values": [{"t": "*", "v": 768}]}, "mark": {"type": "text", "fontSize": 9, "color": "#1a1a1a"},
       "encoding": {"x": {"datum": "LOIT", "bandPosition": 0, "title": null}, "text": {"field": "t"}}}
     ]},
    {"width": 77, "height": 103, "title": {"text": "VEGF.A", "fontSize": 6.5, "offset": 3}, "data": {"name": "vegf"},
     "resolve": {"scale": {"xOffset": "independent"}},
     "encoding": {
      "x": {"field": "g", "type": "nominal", "title": null, "scale": {"domain": ["HOIT", "LOIT"], "paddingInner": 0, "paddingOuter": 0.1}, "axis": {"labelAngle": 0, "labelFontSize": 6.5, "labelOverlap": false}},
      "y": {"field": "v", "type": "quantitative", "title": null, "scale": {"domain": [-5.5, 248.5], "nice": false, "zero": false}, "axis": {"values": [0, 50, 100, 150, 200], "labelOverlap": false, "labelFontSize": 6}}},
     "layer": [
      {"transform": [{"filter": "datum.g == 'HOIT'"}], "mark": {"type": "boxplot", "extent": 1.5, "size": 25, "outliers": false, "box": {"fill": "white", "stroke": "#333333", "strokeWidth": 0.8}, "median": {"color": "#333333", "thickness": 1.5}, "rule": {"color": "#333333", "strokeWidth": 0.8}, "ticks": {"color": "#333333", "size": 6, "thickness": 0.8}}},
      {"transform": [{"filter": "datum.g == 'LOIT'"}], "mark": {"type": "boxplot", "extent": 1.5, "size": 25, "outliers": false, "box": {"fill": "white", "stroke": "#333333", "strokeWidth": 0.8}, "median": {"color": "#333333", "thickness": 1.5}, "rule": {"color": "#333333", "strokeWidth": 0.8}, "ticks": {"color": "#333333", "size": 6, "thickness": 0.8}}},
      {"transform": [{"filter": "datum.g == 'HOIT'"}, {"window": [{"op": "row_number", "as": "i"}]}], "mark": {"type": "circle", "size": 12, "fill": "#EBA23A", "stroke": "#1a1a1a", "strokeWidth": 0.5, "opacity": 1},
       "encoding": {"xOffset": {"field": "i", "type": "nominal", "scale": {"paddingOuter": 8.3}}}},
      {"transform": [{"filter": "datum.g == 'LOIT'"}, {"window": [{"op": "row_number", "as": "i"}]}], "mark": {"type": "circle", "size": 12, "fill": "#2E9CCA", "stroke": "#1a1a1a", "strokeWidth": 0.5, "opacity": 1},
       "encoding": {"xOffset": {"field": "i", "type": "nominal", "scale": {"paddingOuter": 4.3}}}},
      {"data": {"values": [{"t": "Wilcoxon, p = 0.051", "v": 241.5}]}, "mark": {"type": "text", "fontSize": 5.5, "color": "#1a1a1a"},
       "encoding": {"x": {"datum": "LOIT", "bandPosition": 0, "title": null}, "text": {"field": "t"}}}
     ]}
   ]}
 ]},
 {"spacing": 24,
  "resolve": {"scale": {"color": "independent", "yOffset": "independent"}, "legend": {"color": "independent"}},
  "hconcat": [
  {"title": {"text": "d", "anchor": "start", "frame": "bounds", "dx": 5, "offset": -2, "fontSize": 13},
   "resolve": {"scale": {"color": "independent", "yOffset": "independent"}, "legend": {"color": "independent"}},
   "hconcat": [
    {"width": 208, "height": 143,
     "title": {"text": "Factors contributing to lung function measurements", "fontSize": 5.8, "offset": 3},
     "view": {"stroke": "#555555", "strokeWidth": 1},
     "layer": [
      {"data": {"values": [{"z": 0}]}, "mark": {"type": "rule", "color": "#d4d4d4", "strokeWidth": 0.8},
       "encoding": {"x": {"field": "z", "type": "quantitative", "title": null, "scale": {"domain": [-29, 27.3], "nice": false, "zero": false}, "axis": {"values": [-29, -24, -19, -14, -9, -4, 1, 6, 11, 16, 21, 26], "format": ".1f", "labelOverlap": false, "labelFontSize": 5.5, "tickSize": 2, "labelColor": "#333333"}}}},
      {"data": {"name": "dd"}, "mark": {"type": "rule", "strokeWidth": 1, "color": "#f1cfcf", "clip": true},
       "encoding": {
        "y": {"field": "f", "type": "nominal", "title": null, "scale": {"domain": ["Pneumo-type", "Drinking", "Weight"], "paddingInner": 0, "paddingOuter": 0}, "axis": {"labelAlign": "center", "labelPadding": 21, "ticks": false, "tickSize": 0, "labelFontSize": 6.5, "labelColor": "black"}},
        "yOffset": {"field": "m", "type": "nominal", "scale": {"domain": ["DLCO.SB", "DLCO.VA"], "paddingOuter": 0.5}},
        "x": {"field": "lo", "type": "quantitative", "title": null, "axis": {"values": [-29, -24, -19, -14, -9, -4, 1, 6, 11, 16, 21, 26], "format": ".1f", "labelOverlap": false, "labelFontSize": 5.5, "tickSize": 2, "labelColor": "#333333"}}, "x2": {"field": "hi"}}},
      {"data": {"name": "dd"}, "mark": {"type": "point", "shape": "square", "filled": true, "size": 28, "opacity": 1},
       "encoding": {
        "y": {"field": "f", "type": "nominal", "title": null},
        "yOffset": {"field": "m", "type": "nominal"},
        "x": {"field": "est", "type": "quantitative", "title": null, "axis": {"values": [-29, -24, -19, -14, -9, -4, 1, 6, 11, 16, 21, 26], "format": ".1f", "labelOverlap": false, "labelFontSize": 5.5, "tickSize": 2, "labelColor": "#333333"}},
        "color": {"field": "m", "type": "nominal", "scale": {"domain": ["DLCO.SB", "DLCO.VA"], "range": ["#E5495C", "#F6A89B"]},
                  "legend": {"orient": "bottom-right", "offset": 3, "title": "Coefficiency", "titleOrient": "bottom", "titleAnchor": "end", "titleFontSize": 5.5, "titleFontWeight": "normal", "titlePadding": 6, "labelFontSize": 5, "symbolSize": 10, "symbolType": "square", "rowPadding": 1.5, "labelOffset": 2, "padding": 0}}}}
     ]}
   ]},
  {"title": {"text": "e", "anchor": "start", "frame": "bounds", "dx": 5, "offset": -2, "fontSize": 13},
   "resolve": {"scale": {"color": "independent", "yOffset": "independent"}, "legend": {"color": "independent"}},
   "hconcat": [
    {"width": 213, "height": 150,
     "title": {"text": "Factors contributing to cytokine measurements and hospital stay", "fontSize": 5.8, "offset": 3},
     "view": {"stroke": "#555555", "strokeWidth": 1},
     "layer": [
      {"data": {"values": [{"z": 0}]}, "mark": {"type": "rule", "color": "#d4d4d4", "strokeWidth": 0.8},
       "encoding": {"x": {"field": "z", "type": "quantitative", "title": null, "scale": {"domain": [-0.71, 1.01], "nice": false, "zero": false}, "axis": {"values": [-0.5, 0, 0.5, 1], "format": ".1f", "labelOverlap": false, "labelFontSize": 6, "tickSize": 2, "labelPadding": 1, "labelColor": "#333333"}}}},
      {"data": {"name": "ee"}, "mark": {"type": "rule", "strokeWidth": 1, "color": "#c9e7e8", "clip": true},
       "encoding": {
        "y": {"field": "f", "type": "nominal", "title": null, "scale": {"domain": ["Pneumo-type", "Native", "Diabetes", "Heartdisease", "Smoking", "Drinking", "Gender", "TNM stage", "Age", "Height", "Weight"], "paddingInner": 0, "paddingOuter": 0}, "axis": {"labelAlign": "center", "labelPadding": 21, "ticks": false, "tickSize": 0, "labelFontSize": 6.5, "labelColor": "black"}},
        "yOffset": {"field": "m", "type": "nominal", "scale": {"domain": ["IL-1β", "IL-1RA", "PDGF-AA", "RANTES", "VEGF-A", "hospital stay"], "paddingOuter": 1.9}},
        "x": {"field": "lo", "type": "quantitative", "title": null}, "x2": {"field": "hi"}}},
      {"data": {"name": "ee"}, "mark": {"type": "point", "shape": "square", "filled": true, "size": 24, "opacity": 1},
       "encoding": {
        "y": {"field": "f", "type": "nominal", "title": null},
        "yOffset": {"field": "m", "type": "nominal"},
        "x": {"field": "est", "type": "quantitative", "title": null},
        "color": {"field": "m", "type": "nominal", "scale": {"domain": ["IL-1β", "IL-1RA", "PDGF-AA", "RANTES", "VEGF-A", "hospital stay"], "range": ["#2F6AA6", "#6AA5D8", "#1DBFC6", "#2E9E6E", "#9BDCC0", "#8CC63F"]},
                  "legend": {"orient": "bottom-right", "offset": 3, "title": "Coefficiency", "titleOrient": "bottom", "titleAnchor": "end", "titleFontSize": 5.5, "titleFontWeight": "normal", "titlePadding": 4, "labelFontSize": 5, "symbolSize": 10, "symbolType": "square", "rowPadding": 0, "labelOffset": 2, "padding": 0}}}}
     ]}
   ]}
 ]}
]
}
